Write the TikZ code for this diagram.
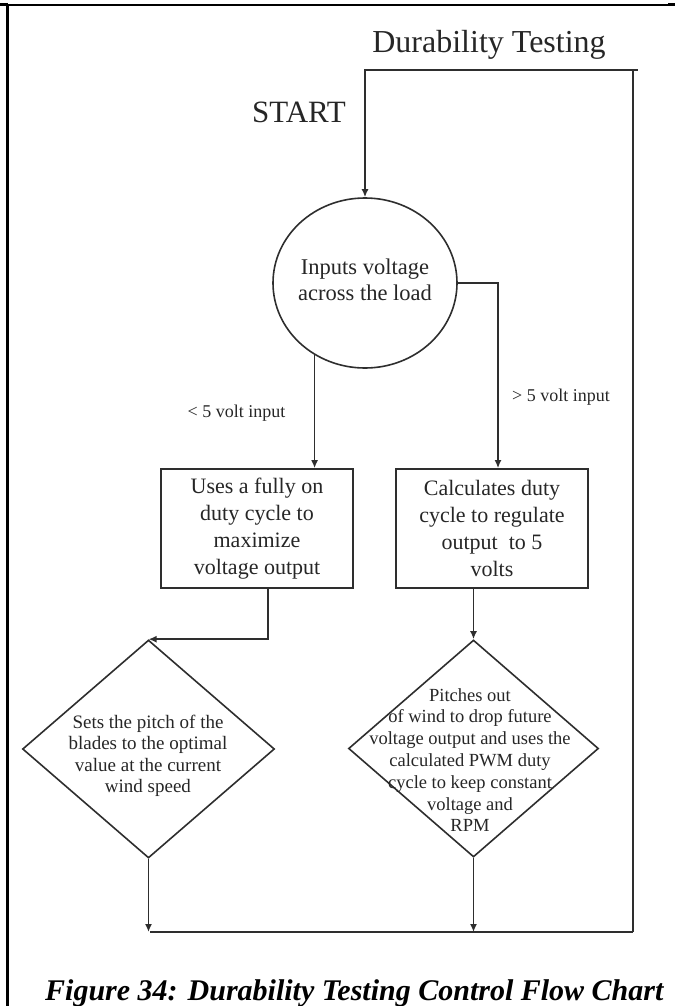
\documentclass[tikz,border=0pt]{standalone}
\usepackage{fontspec}
\setmainfont{Liberation Serif}
\usetikzlibrary{shapes.geometric,arrows.meta}
\definecolor{ink}{HTML}{262626}
\definecolor{stroke}{HTML}{2E2E2E}
\tikzset{
  conn/.style={draw=stroke, line width=1.6pt},
  arr/.style={conn, -{Latex[length=8pt,width=7pt]}},
  frame/.style={draw=black, line width=1.6pt},
  boxnode/.style={rectangle, draw=stroke, line width=1.7pt, minimum width=192pt, minimum height=119pt, inner sep=0pt,
     align=center, text=ink, font=\fontsize{22}{27}\selectfont},
  dianode/.style={diamond, draw=stroke, line width=1.6pt, inner sep=0pt},
  txt/.style={text=ink, inner sep=0pt, align=center},
}
\begin{document}
\begin{tikzpicture}[x=1pt,y=-1pt]
\useasboundingbox (0,0) rectangle (675,1006);
% page frame
\draw[frame] (0,5) -- (675,5);
\draw[draw=black, line width=2.6pt] (7.5,5) -- (7.5,1006);
\draw[draw=black, line width=3pt] (0,5) -- (8,5);
\draw[draw=black, line width=3pt] (668,5) -- (675,5);

% titles
\node[txt, anchor=base, font=\fontsize{32}{38}\selectfont] (title) at (489,53) {Durability Testing};
\node[txt, anchor=base, font=\fontsize{31}{38}\selectfont] (start) at (299,123) {START};

% loop coordinates
\coordinate (loopTR) at (633,70);
\coordinate (loopBR) at (633,932);
\coordinate (loopBL) at (150,932);

% main shapes
\node[ellipse, draw=stroke, line width=1.6pt, minimum width=184pt, minimum height=170pt, inner sep=0pt] (inp) at (365,283) {};
\node[txt, font=\fontsize{22.5}{26}\selectfont] (inptxt) at (365,280) {Inputs voltage\\across the load};

\node[boxnode] (boxL) at (257,528.5) {Uses a fully on\\duty cycle to\\maximize\\voltage output};
\node[boxnode] (boxR) at (492,528.5) {Calculates duty\\cycle to regulate\\output~~to 5\\volts};

\node[dianode, minimum width=252pt, minimum height=218pt] (dL) at (148.5,749) {};
\node[txt, font=\fontsize{19}{21.5}\selectfont] (dLtxt) at (148,756) {Sets the pitch of the\\blades to the optimal\\value at the current\\wind speed};

\node[dianode, minimum width=250pt, minimum height=217pt] (dR) at (473.5,748.5) {};
\node[txt, font=\fontsize{18.5}{21.8}\selectfont] (dRtxt) at (470,760) {Pitches out\\of wind to drop future\\voltage output and uses the\\calculated PWM duty\\cycle to keep constant\\voltage and\\RPM};

% branch labels
\node[txt, anchor=base, font=\fontsize{18}{22}\selectfont] (lessL) at (236.5,417) {< 5 volt input};
\node[txt, anchor=base, font=\fontsize{18}{22}\selectfont] (moreR) at (561,401) {> 5 volt input};

% connectors
\draw[arr] (loopBR) -- (loopTR) -- (inp.north |- loopTR) -- (inp.north);
\draw[conn] (loopTR) -- ++(5,0);
\draw[conn] (loopBL) -- (loopBR);
\draw[arr] (inp.235) -- (inp.235 |- boxL.north);
\draw[arr] (inp.east) -| ([xshift=6pt]boxR.north);
\draw[arr] ([xshift=11pt]boxL.south) |- (dL.north);
\draw[arr] (boxR.south -| dR.north) -- (dR.north);
\draw[arr] (dL.south) -- (dL.south |- loopBL);
\draw[arr] (dR.south) -- (dR.south |- loopBL);

% caption
\node[txt, anchor=base west, font=\fontsize{30}{36}\selectfont\bfseries\itshape, text=black] (caption) at (45,1000) {Figure 34: Durability Testing Control Flow Chart};
\end{tikzpicture}
\end{document}
